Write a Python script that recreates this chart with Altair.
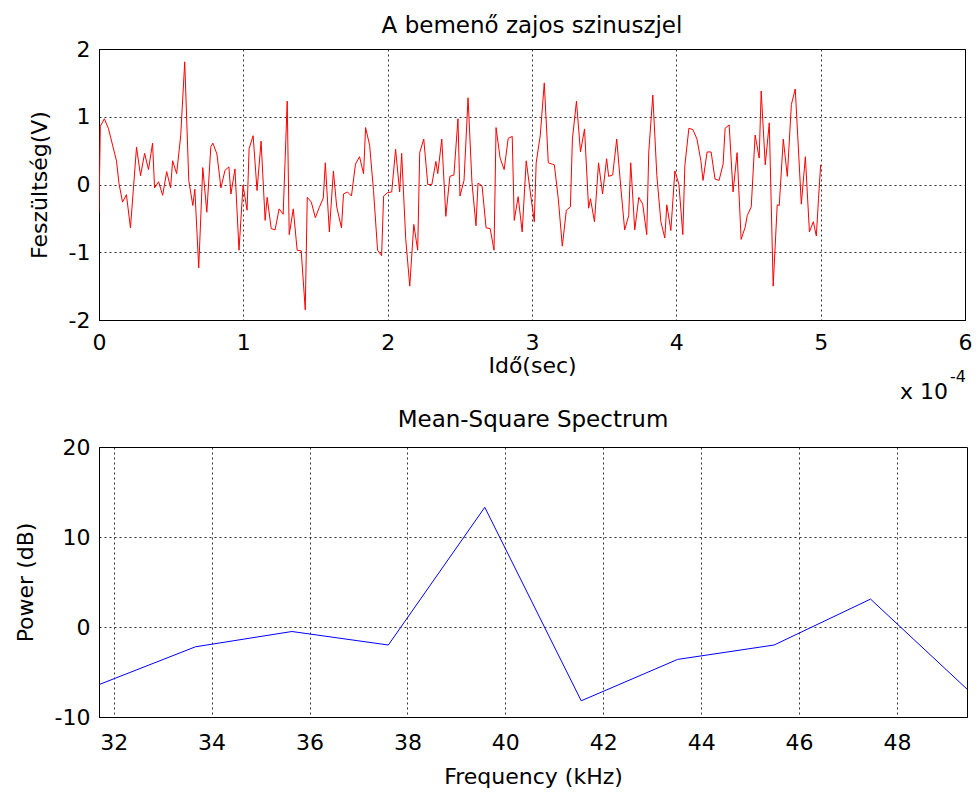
import altair as alt
import pandas as pd

FONT = "DejaVu Sans"

# ---- top panel: noisy sine (time in units of 1e-4 s) ----
t_e4 = [
    0.000, 0.009, 0.037, 0.065, 0.121, 0.139, 0.163, 0.190, 0.218, 0.260,
    0.288, 0.316, 0.343, 0.371, 0.385, 0.413, 0.441, 0.469, 0.496, 0.510,
    0.538, 0.566, 0.594, 0.622, 0.650, 0.664, 0.691, 0.719, 0.747, 0.775,
    0.789, 0.817, 0.845, 0.873, 0.900, 0.914, 0.942, 0.970, 0.998, 1.026,
    1.040, 1.068, 1.095, 1.123, 1.151, 1.165, 1.193, 1.220, 1.248, 1.276,
    1.304, 1.318, 1.346, 1.373, 1.401, 1.429, 1.443, 1.471, 1.499, 1.526,
    1.554, 1.568, 1.596, 1.624, 1.647, 1.680, 1.694, 1.721, 1.749, 1.777,
    1.805, 1.833, 1.847, 1.875, 1.902, 1.930, 1.958, 1.972, 2.000, 2.028,
    2.055, 2.083, 2.097, 2.125, 2.153, 2.181, 2.208, 2.222, 2.250, 2.278,
    2.306, 2.334, 2.347, 2.375, 2.403, 2.431, 2.459, 2.487, 2.501, 2.529,
    2.557, 2.584, 2.612, 2.626, 2.654, 2.682, 2.710, 2.737, 2.751, 2.779,
    2.807, 2.835, 2.863, 2.877, 2.904, 2.932, 2.960, 2.988, 3.016, 3.029,
    3.057, 3.085, 3.113, 3.141, 3.155, 3.182, 3.210, 3.238, 3.266, 3.280,
    3.308, 3.336, 3.364, 3.392, 3.405, 3.433, 3.461, 3.489, 3.517, 3.531,
    3.559, 3.587, 3.614, 3.642, 3.670, 3.684, 3.712, 3.740, 3.767, 3.795,
    3.809, 3.837, 3.865, 3.893, 3.920, 3.934, 3.962, 3.990, 4.018, 4.045,
    4.059, 4.087, 4.115, 4.143, 4.170, 4.185, 4.213, 4.241, 4.268, 4.296,
    4.324, 4.338, 4.366, 4.393, 4.421, 4.449, 4.477, 4.491, 4.519, 4.546,
    4.574, 4.588, 4.616, 4.644, 4.671, 4.699, 4.713, 4.741, 4.769, 4.797,
    4.824, 4.866, 4.894, 4.922, 4.949, 4.970, 4.985, 5.000,
]
volts = [
    -0.41, 0.86, 0.97, 0.83, 0.35, 0.01, -0.26, -0.15, -0.64, 0.55,
    0.13, 0.46, 0.22, 0.61, -0.05, 0.04, -0.16, 0.19, -0.05, 0.35,
    0.16, 0.72, 1.81, 0.06, -0.31, -0.07, -1.23, 0.25, -0.41, 0.56,
    0.61, 0.45, -0.05, 0.21, 0.26, -0.14, 0.23, -0.97, -0.01, -0.38,
    0.53, 0.72, -0.09, 0.64, -0.53, -0.19, -0.65, -0.67, -0.36, -0.44,
    1.23, -0.74, -0.36, -0.97, -0.98, -1.85, -0.19, -0.26, -0.49, -0.34,
    -0.20, 0.32, -0.70, 0.20, -0.33, -0.64, -0.14, -0.11, -0.17, 0.30,
    0.41, 0.16, 0.84, 0.58, -0.09, -0.97, -1.05, -0.17, -0.12, -0.11,
    0.52, -0.11, 0.46, -0.80, -1.50, -0.59, -0.97, 0.47, 0.67, 0.00,
    0.00, 0.34, 0.16, 0.67, -0.47, 0.12, 0.14, 0.97, -0.17, 0.06,
    1.28, 0.03, -0.61, 0.02, -0.02, -0.64, -0.65, -0.97, 0.84, 0.39,
    0.22, 0.68, 0.71, -0.53, -0.18, -0.70, 0.35, -0.11, -0.55, 0.32,
    0.72, 1.50, 0.32, 0.30, 0.29, -0.21, -0.91, -0.38, -0.33, 0.67,
    1.23, 0.48, 0.82, -0.35, -0.21, -0.55, 0.32, -0.14, 0.38, 0.12,
    0.14, 0.67, -0.01, -0.67, -0.46, 0.32, -0.67, -0.19, -0.29, -0.74,
    0.48, 1.32, 0.13, -0.55, -0.79, -0.30, -0.68, 0.20, 0.00, -0.74,
    0.28, 0.83, 0.81, 0.67, 0.35, 0.06, 0.48, 0.48, 0.08, 0.06,
    0.30, 0.83, 0.88, -0.11, 0.47, -0.81, -0.63, -0.46, -0.33, 0.73,
    0.39, 1.38, 0.29, 0.91, -1.50, -0.30, -0.31, 0.67, 0.12, 1.18,
    1.41, -0.29, 0.41, -0.70, -0.55, -0.76, -0.21, 0.29,
]
time_ticks = [0, 1, 2, 3, 4, 5, 6]
volt_ticks = [-2, -1, 0, 1, 2]

# ---- bottom panel: mean-square spectrum ----
freq_khz = [31.7, 33.67, 35.64, 37.61, 39.58, 41.55, 43.52, 45.49, 47.46, 49.43]
power_db = [-6.4, -2.2, -0.5, -2.0, 13.3, -8.2, -3.6, -2.0, 3.1, -6.9]
freq_ticks = [32, 34, 36, 38, 40, 42, 44, 46, 48]
power_ticks = [-10, 0, 10, 20]

sig = pd.DataFrame({"t": t_e4, "v": volts})
spec = pd.DataFrame({"f": freq_khz, "p": power_db})

LBL = "'' + datum.value"

top_line = alt.Chart(sig).mark_line(color="#ff0000", strokeWidth=1, clip=True).encode(
    x=alt.X("t:Q", scale=alt.Scale(domain=[0, 6], nice=False, zero=False),
            axis=alt.Axis(values=time_ticks, labelExpr=LBL, title="Idő(sec)",
                          labelPadding=12, titlePadding=2)),
    y=alt.Y("v:Q", scale=alt.Scale(domain=[-2, 2], nice=False),
            axis=alt.Axis(values=volt_ticks, labelExpr=LBL, title="Feszültség(V)",
                          labelPadding=9, titlePadding=17)),
)

exp_base = alt.Chart(pd.DataFrame({"s": ["x 10"]})).mark_text(
    align="left", baseline="alphabetic", fontSize=22, font=FONT, color="black"
).encode(text="s:N", x=alt.value(801), y=alt.value(350))

exp_pow = alt.Chart(pd.DataFrame({"s": ["-4"]})).mark_text(
    align="left", baseline="alphabetic", fontSize=16, font=FONT, color="black"
).encode(text="s:N", x=alt.value(851), y=alt.value(333))

top = alt.layer(top_line, exp_base, exp_pow).properties(
    width=866, height=271,
    title=alt.TitleParams("A bemenő zajos szinuszjel", fontSize=23, font=FONT,
                          fontWeight="normal", color="black", offset=0,
                          anchor="middle", frame="group"),
)

bottom = alt.Chart(spec).mark_line(color="#0000ff", strokeWidth=1, clip=True).encode(
    x=alt.X("f:Q", scale=alt.Scale(domain=[31.7, 49.43], nice=False, zero=False),
            axis=alt.Axis(values=freq_ticks, labelExpr=LBL, title="Frequency (kHz)",
                          labelPadding=15, titlePadding=13)),
    y=alt.Y("p:Q", scale=alt.Scale(domain=[-10, 20], nice=False),
            axis=alt.Axis(values=power_ticks, labelExpr=LBL, title="Power (dB)",
                          labelPadding=9, titlePadding=17)),
).properties(
    width=868, height=270,
    title=alt.TitleParams("Mean-Square Spectrum", fontSize=23, font=FONT,
                          fontWeight="normal", color="black", offset=4,
                          anchor="middle", frame="group"),
)

chart = alt.vconcat(top, bottom, spacing=4).properties(
    padding={"left": 13, "top": 14, "right": 3, "bottom": 0},
    background="white",
).configure_axis(
    labelFont=FONT, labelFontSize=22, labelColor="black",
    titleFont=FONT, titleFontSize=22, titleFontWeight="normal", titleColor="black",
    domainColor="black", domainWidth=1,
    grid=True, gridColor="black", gridDash=[2, 3], gridOpacity=0.8, gridWidth=1,
    ticks=False, tickSize=0, labelFlush=False, labelOverlap=False,
).configure_view(stroke="black", strokeWidth=1)

chart.save("out.html", embed_options={"renderer": "svg", "actions": False})
